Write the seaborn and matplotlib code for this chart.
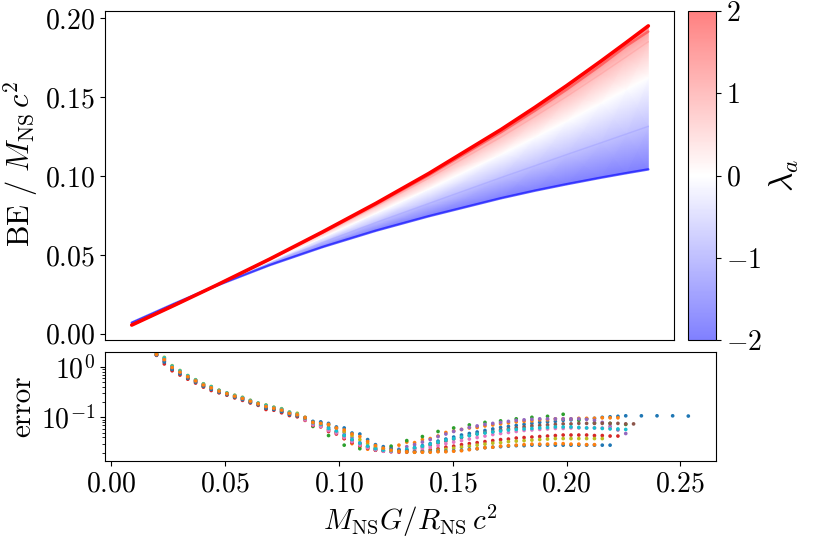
import numpy as np
import pandas as pd
import matplotlib
matplotlib.use("Agg")
import matplotlib.pyplot as plt
from matplotlib.colors import ListedColormap
import seaborn as sns

# ---------------- top panel data (BE / M c^2 read at sample compactness) ----------------
be_compactness = [0.010, 0.030, 0.050, 0.075, 0.100, 0.125, 0.150, 0.184, 0.200, 0.215, 0.231, 0.243, 0.2535]
lam_levels = [-2.0, -1.0, 0.0, 1.0, 1.5, 2.0]
be_lam_m2 = [0.0070, 0.0190, 0.0305, 0.0435, 0.0550, 0.0653, 0.0745, 0.0859, 0.0907, 0.0948, 0.0989, 0.1018, 0.1042]
be_lam_m1 = [0.0066, 0.0187, 0.0306, 0.0446, 0.0579, 0.0705, 0.0826, 0.0990, 0.1065, 0.1136, 0.1210, 0.1266, 0.1315]
be_lam_0 = [0.0060, 0.0184, 0.0307, 0.0459, 0.0611, 0.0764, 0.0918, 0.1137, 0.1245, 0.1348, 0.1461, 0.1548, 0.1624]
be_lam_p1 = [0.0057, 0.0181, 0.0308, 0.0469, 0.0635, 0.0807, 0.0986, 0.1246, 0.1377, 0.1504, 0.1646, 0.1755, 0.1852]
be_lam_p15 = [0.0056, 0.0180, 0.0308, 0.0472, 0.0642, 0.0819, 0.1005, 0.1277, 0.1414, 0.1548, 0.1701, 0.1823, 0.1916]
be_lam_p2 = [0.0055, 0.0180, 0.0308, 0.0473, 0.0646, 0.0826, 0.1016, 0.1294, 0.1435, 0.1573, 0.1727, 0.1846, 0.1952]

# ---------------- bottom panel data (log10 of error on a regular compactness grid) ----------------
err_grid_start = 0.0200
err_grid_step = 0.003433

log_err_s1 = [0.243, 0.133, -0.02, -0.111, -0.203, -0.283, -0.363, -0.422, -0.485, -0.535, -0.585, -0.629,
              -0.685, -0.735, -0.791, -0.824, -0.862, -0.923,
              -0.95, -1.03, -1.12, -1.15, -1.20, -1.28, -1.35, -1.45, -1.52, -1.58, -1.62, -1.65, -1.67, -1.67,
              -1.64, -1.60, -1.56, -1.52, -1.47, -1.43, -1.39, -1.35, -1.32, -1.29, -1.26, -1.23, -1.20, -1.18,
              -1.16, -1.14, -1.12, -1.10, -1.09, -1.08, -1.06, -1.05, -1.04, -1.03, -1.02, -1.00, -0.99, -0.98, -0.97]
log_err_s1_tail = [-0.97, -0.97, -0.97, -0.975]
log_err_s2 = [0.248, 0.153, -0.005, -0.098, -0.192, -0.274, -0.354, -0.41, -0.477, -0.529, -0.577, -0.62,
              -0.677, -0.729, -0.778, -0.815, -0.85, -0.913,
              -0.95, -1.02, -1.12, -1.15, -1.25, -1.30, -1.42, -1.52, -1.58, -1.63, -1.65, -1.62, -1.60, -1.55,
              -1.49, -1.50, -1.44, -1.42, -1.37, -1.30, -1.27, -1.24, -1.21, -1.20, -1.17, -1.15, -1.13, -1.11,
              -1.09, -1.08, -1.07, -1.05, -1.05, -1.03, -1.03, -1.03, -1.02, -1.02, -1.02, -1.01, -1.01, -1.01]
log_err_s3 = [0.231, -0.06, -0.232, -0.39, -0.506, -0.606, -0.706, -0.827, -0.894, -0.98, -1.18, -1.36,
              -1.55, -1.62, -1.60, -1.57, -1.46, -1.38, -1.28, -1.21, -1.15, -1.10, -1.07, -1.03, -1.00,
              -0.98, -0.94, -1.06, -1.11, -1.12, -1.14]
log_err_s4 = [0.225, 0.055, -0.08, -0.165, -0.246, -0.323, -0.403, -0.47, -0.516, -0.563, -0.616, -0.665,
              -0.716, -0.763, -0.845, -0.86, -0.91, -0.965,
              -0.99, -1.06, -1.16, -1.19, -1.28, -1.33, -1.42, -1.50, -1.56, -1.61, -1.65, -1.67, -1.68, -1.69,
              -1.69, -1.68, -1.66, -1.64, -1.62, -1.59, -1.57, -1.54, -1.52, -1.50, -1.48, -1.46, -1.44, -1.43,
              -1.41, -1.40, -1.39, -1.38, -1.37, -1.36, -1.35, -1.35, -1.35, -1.35, -1.36, -1.36, -1.37, -1.37]
log_err_s5 = [0.25, 0.166, 0.005, -0.089, -0.185, -0.267, -0.347, -0.402, -0.472, -0.524, -0.572, -0.614,
              -0.672, -0.724, -0.769, -0.809, -0.842, -0.906,
              -0.93, -1.00, -1.09, -1.10, -1.14, -1.22, -1.30, -1.40, -1.50, -1.58, -1.64, -1.66, -1.66, -1.63,
              -1.58, -1.54, -1.49, -1.44, -1.38, -1.33, -1.28, -1.24, -1.20, -1.17, -1.14, -1.12, -1.10, -1.08,
              -1.06, -1.05, -1.04, -1.03, -1.03, -1.03, -1.03, -1.03, -1.03, -1.04, -1.06, -1.10, -1.18, -1.25, -1.32]
log_err_s6 = [0.236, 0.10, -0.045, -0.134, -0.221, -0.30, -0.38, -0.442, -0.498, -0.547, -0.598, -0.644,
              -0.698, -0.747, -0.814, -0.839, -0.882, -0.941,
              -0.96, -1.04, -1.14, -1.17, -1.24, -1.30, -1.38, -1.46, -1.53, -1.59, -1.63, -1.66, -1.67, -1.67,
              -1.65, -1.62, -1.59, -1.55, -1.51, -1.47, -1.43, -1.40, -1.36, -1.33, -1.30, -1.28, -1.25, -1.23,
              -1.21, -1.19, -1.17, -1.16, -1.15, -1.14, -1.13, -1.13, -1.12, -1.12, -1.12, -1.12, -1.12, -1.12,
              -1.13, -1.13]
log_err_s7 = [0.24, 0.12, -0.03, -0.12, -0.21, -0.29, -0.37, -0.43, -0.49, -0.54, -0.59, -0.635,
              -0.69, -0.74, -0.80, -0.83, -0.87, -0.93,
              -0.96, -1.05, -1.15, -1.18, -1.26, -1.31, -1.40, -1.48, -1.55, -1.60, -1.64, -1.67, -1.68, -1.68,
              -1.67, -1.65, -1.62, -1.59, -1.56, -1.52, -1.49, -1.46, -1.43, -1.40, -1.37, -1.34, -1.32, -1.30,
              -1.28, -1.26, -1.25, -1.24, -1.23, -1.22, -1.22, -1.21, -1.21, -1.21, -1.21, -1.21, -1.21]
log_err_s8 = [0.255, 0.185, 0.02, -0.075, -0.174, -0.257, -0.337, -0.39, -0.464, -0.517, -0.564, -0.605,
              -0.664, -0.717, -0.755, -0.80, -0.83, -0.895,
              -0.92, -1.00, -1.09, -1.11, -1.15, -1.21, -1.28, -1.36, -1.44, -1.52, -1.58, -1.62, -1.65, -1.67,
              -1.68, -1.69, -1.68, -1.67, -1.65, -1.63, -1.61, -1.59, -1.57, -1.55, -1.53, -1.51, -1.50, -1.48,
              -1.47, -1.46, -1.45, -1.44, -1.43, -1.42, -1.42, -1.42, -1.42, -1.42, -1.42, -1.42]
log_err_s9 = [0.252, 0.172, 0.01, -0.084, -0.181, -0.264, -0.344, -0.398, -0.469, -0.522, -0.569, -0.611,
              -0.669, -0.722, -0.764, -0.806, -0.838, -0.902,
              -0.94, -1.02, -1.11, -1.14, -1.22, -1.27, -1.36, -1.44, -1.51, -1.57, -1.62, -1.65, -1.66, -1.65,
              -1.63, -1.60, -1.57, -1.53, -1.49, -1.45, -1.42, -1.39, -1.36, -1.33, -1.31, -1.29, -1.27, -1.25,
              -1.24, -1.23, -1.22, -1.21, -1.20, -1.19, -1.19, -1.19, -1.20, -1.21, -1.21, -1.22, -1.23, -1.23, -1.24]
log_err_s10 = [0.234, 0.094, -0.05, -0.138, -0.224, -0.303, -0.383, -0.446, -0.50, -0.549, -0.60, -0.647,
               -0.70, -0.749, -0.818, -0.842, -0.886, -0.944,
               -0.97, -1.01, -1.08, -1.09, -1.12, -1.19, -1.21, -1.31, -1.33, -1.44, -1.54, -1.58, -1.62, -1.65,
               -1.67, -1.68, -1.68, -1.68, -1.67, -1.67, -1.66, -1.65, -1.63, -1.62, -1.60, -1.59, -1.58, -1.57,
               -1.56, -1.56, -1.55, -1.55, -1.55, -1.55, -1.55, -1.55, -1.55, -1.55, -1.55, -1.55, -1.55]
log_err_s11 = [0.245, 0.14, -0.015, -0.107, -0.199, -0.28, -0.36, -0.418, -0.482, -0.533, -0.582, -0.626,
               -0.682, -0.733, -0.787, -0.821, -0.858, -0.92,
               -0.95, -1.01, -1.10, -1.12, -1.14, -1.21, -1.25, -1.33, -1.38, -1.48, -1.56, -1.61, -1.65, -1.67,
               -1.68, -1.69, -1.69, -1.69, -1.68, -1.68, -1.67, -1.66, -1.64, -1.62, -1.60, -1.59, -1.57, -1.56,
               -1.55, -1.54, -1.53, -1.53, -1.53, -1.52, -1.52, -1.53, -1.53, -1.54, -1.54]

series_names = ["EOS 1", "EOS 1", "EOS 2", "EOS 3", "EOS 4", "EOS 5", "EOS 6", "EOS 7",
                "EOS 8", "EOS 9", "EOS 10", "EOS 11"]
series_values = [log_err_s1, log_err_s1_tail, log_err_s2, log_err_s3, log_err_s4, log_err_s5,
                 log_err_s6, log_err_s7, log_err_s8, log_err_s9, log_err_s10, log_err_s11]
series_first_col = [0, 62, 0, 0, 0, 0, 0, 0, 0, 0, 0, 0]
series_col_step = [1, 2, 1, 2, 1, 1, 1, 1, 1, 1, 1, 1]
eos_palette = {"EOS 1": "#1f77b4", "EOS 2": "#ff7f0e", "EOS 3": "#2ca02c", "EOS 4": "#d62728",
               "EOS 5": "#9467bd", "EOS 6": "#8c564b", "EOS 7": "#e377c2", "EOS 8": "#bcbd22",
               "EOS 9": "#17becf", "EOS 10": "#1f77b4", "EOS 11": "#ff7f0e"}

# ---------------- style ----------------
sns.set_style("ticks")
plt.rcParams.update({
    "font.family": "serif",
    "font.serif": ["cmr10"],
    "mathtext.fontset": "cm",
    "axes.formatter.use_mathtext": True,
    "axes.edgecolor": "black",
    "axes.linewidth": 0.8,
    "xtick.color": "black",
    "ytick.color": "black",
    "xtick.major.size": 3.5,
    "ytick.major.size": 3.5,
    "ytick.minor.size": 2.0,
    "xtick.major.width": 0.8,
    "ytick.major.width": 0.8,
    "ytick.minor.width": 0.6,
    "xtick.direction": "out",
    "ytick.direction": "out",
    "text.color": "black",
    "axes.labelcolor": "black",
})

fig = plt.figure(figsize=(8.14, 5.43), dpi=100)
ax1 = fig.add_axes([0.1290, 0.3738, 0.6990, 0.6064])
ax2 = fig.add_axes([0.1290, 0.1510, 0.7506, 0.2013], sharex=ax1)
cax = fig.add_axes([0.8452, 0.3738, 0.0344, 0.6059])

# pale bwr: bwr at 50 % opacity over white, drawn opaque so the mesh has no seams
base = plt.get_cmap("bwr")(np.linspace(0, 1, 256))
pale = base.copy()
pale[:, :3] = 0.5 * base[:, :3] + 0.5
pale_bwr = ListedColormap(pale)

# ---------------- top panel ----------------
curves = [be_lam_m2, be_lam_m1, be_lam_0, be_lam_p1, be_lam_p15, be_lam_p2]
X = np.tile(np.array(be_compactness), (len(lam_levels), 1))
Y = np.array(curves)
C = np.repeat(np.array(lam_levels)[:, None], len(be_compactness), axis=1)
mesh = ax1.pcolormesh(X, Y, C, shading="gouraud", cmap=pale_bwr, vmin=-2, vmax=2)

rows = []
for lam, cur in zip(lam_levels, curves):
    for c, b in zip(be_compactness, cur):
        rows.append({"C": c, "BE": b, "lam": lam})
df_be = pd.DataFrame(rows)
faint = df_be[df_be["lam"].isin([-1.0, 0.0, 1.0])]
strong = df_be[df_be["lam"].isin([-2.0, 1.5])]
sns.lineplot(data=faint, x="C", y="BE", hue="lam", palette="bwr", hue_norm=(-2, 2),
             estimator=None, sort=False, lw=1.0, alpha=0.25, legend=False, ax=ax1)
sns.lineplot(data=strong, x="C", y="BE", hue="lam", palette="bwr", hue_norm=(-2, 2),
             estimator=None, sort=False, lw=1.8, alpha=0.6, legend=False, ax=ax1)
sns.lineplot(x=be_compactness, y=be_lam_p2, color="red", lw=2.6, estimator=None, sort=False, ax=ax1)

ax1.set_xlim(-0.0026, 0.2656)
ax1.set_ylim(-0.004, 0.2048)
ax1.set_yticks([0.0, 0.05, 0.10, 0.15, 0.20])
ax1.tick_params(axis="x", bottom=False, labelbottom=False)
ax1.tick_params(axis="y", labelsize=20)
ax1.set_xlabel("")
ax1.set_ylabel(r"$\mathrm{BE}\ /\ M_{\mathrm{NS}}\,c^2$", fontsize=22)

cb = fig.colorbar(mesh, cax=cax, ticks=[-2, -1, 0, 1, 2])
cb.outline.set_edgecolor("black")
cb.outline.set_linewidth(0.8)
cb.ax.tick_params(labelsize=20)
cb.set_label(r"$\lambda_a$", fontsize=24)

# ---------------- bottom panel ----------------
err_rows = []
for name, vals, k0, dk in zip(series_names, series_values, series_first_col, series_col_step):
    for i, v in enumerate(vals):
        err_rows.append({"comp": err_grid_start + err_grid_step * (k0 + dk * i),
                         "err": 10.0 ** v, "eos": name})
df_err = pd.DataFrame(err_rows)
sns.scatterplot(data=df_err, x="comp", y="err", hue="eos", palette=eos_palette, s=7,
                linewidth=0, legend=False, ax=ax2)
ax2.set_yscale("log")
ax2.set_ylim(0.0137, 1.98)
ax2.set_xlim(-0.0026, 0.2656)
ax2.set_xticks([0.0, 0.05, 0.10, 0.15, 0.20, 0.25])
ax2.tick_params(axis="both", which="major", labelsize=20)
ax2.set_ylabel("error", fontsize=21)
ax2.set_xlabel(r"$M_{\mathrm{NS}}G/R_{\mathrm{NS}}\,c^2$", fontsize=21)

ax1.yaxis.set_label_coords(-0.115, 0.535)
ax2.yaxis.set_label_coords(-0.113, 0.5)
fig.savefig("out.png", dpi=100)
